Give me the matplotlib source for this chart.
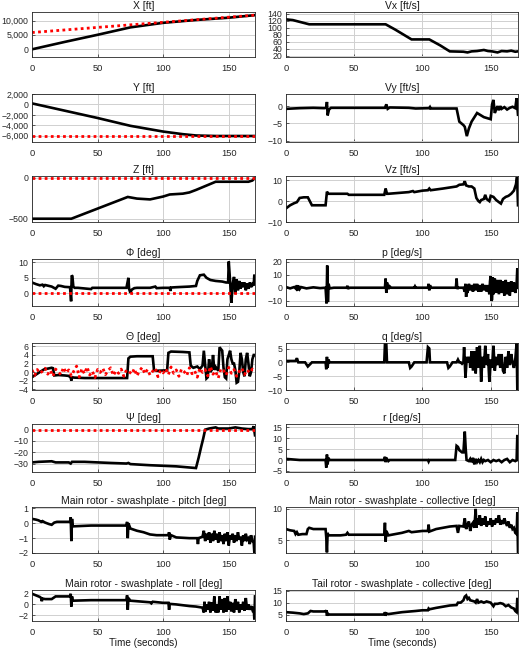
import matplotlib
matplotlib.use('Agg')
import matplotlib.pyplot as plt
from matplotlib.ticker import FuncFormatter

plt.rcParams['font.family'] = ['Liberation Sans', 'DejaVu Sans']

# ---- data (time [s], value) ---------------------------------------------
x_ft = [(0, -100), (25, 2500), (50, 5000), (75, 7600), (100, 9200), (125, 10200),
        (150, 11000), (170, 11900)]
x_ref = [(0, 5800), (170, 11900)]

y_ft = [(0, 200), (25, -1200), (50, -2600), (75, -4100), (100, -5200), (115, -5700),
        (125, -5950), (140, -6050), (170, -6050)]
y_ref = [(0, -6000), (170, -6000)]

z_ft = [(0, -500), (30, -500), (73, -235), (80, -255), (90, -265), (100, -230),
        (105, -205), (115, -195), (120, -180), (125, -150), (140, -50), (165, -50),
        (168, -35), (170, -5)]
z_ref = [(0, 0), (170, 0)]

phi = [(0, 3.5), (3, 3), (6, 2.6), (8, 2.8), (9, 2.3), (10, 2.7), (12, 2.5), (15, 2.2),
       (18, 1.5), (20, 2.5), (22, 2.4), (25, 2.1), (29, 2), (29.8, -2.5), (30.3, 5.8),
       (30.8, 5.5), (31.5, 2.2), (32.5, 1.8), (35, 1.8), (45, 1.4), (46, 1.8), (50, 1.8),
       (60, 1.8), (72, 1.8), (73.5, 5), (74, 1.5), (75, 0.2), (76, 1.2), (78, 1.7),
       (80, 1.8), (90, 1.8), (94, 2.2), (95, 1.7), (100, 1.8), (105, 1.8), (105.5, 0.8),
       (106, 1.9), (110, 2), (120, 2.2), (125, 2.4), (126, 4), (128, 5.8), (131, 6),
       (133, 5), (136, 4.3), (140, 4), (145, 3.8), (148, 3.5), (149.5, 3.5), (150, 10.2),
       (151, 4), (152, -3), (153, 3), (154, 5.3), (155, 0), (156, 4.5), (157, 1), (158, 4),
       (159, 1.5), (160, 3.5), (161, 2), (162, 3.5), (163, 1), (164, 3.2), (165, 1.5),
       (166, 3.5), (167, 2), (168, 3), (169, 2.5), (169.5, 6), (170, 4)]
phi_ref = [(0, 0), (170, 0)]

theta = [(0, -1.2), (3, -0.6), (6, 0), (9, 0.6), (12, 0.8), (15, 1), (16, 0.9), (17, -0.8),
         (20, -0.7), (25, -0.8), (28, -0.9), (29.5, -1.3), (30, -2), (30.5, -1.2), (32, -1.3),
         (40, -1.4), (60, -1.4), (72.5, -1.4), (73.5, 3.2), (75, 3.6), (80, 3.7), (92, 3.7),
         (93, 0.5), (95, 0.3), (103, 0.4), (104, 4.5), (106, 4.8), (115, 4.7), (120, 4.6),
         (121, 1.5), (123, 1.0), (126, 1.3), (128, 0.7), (130, 1.5), (131, 5), (133, -1.5),
         (134, -1.2), (135, 3), (136, 0), (137, 0.5), (138, 4), (139, 0.5), (140, 1.2),
         (142, 0.3), (143, 5.8), (145, 5), (146, 1), (147, -1.2), (148, -1.5), (149, 3),
         (150, 4), (151, 5), (152, 3), (153, 2), (154, 2), (155, 0.5), (156, -2.5),
         (157, -2.3), (158, 0), (159, 4.5), (160, 3), (161, 0), (162, -1), (163, 3),
         (164, 4.5), (165, 2), (166, -1), (167, 0), (168, 3), (169, 4), (170, 4)]
theta_ref_t = list(range(0, 172, 2))
theta_ref_v = [0.5, -0.8, 0.6, -0.3, 0.2, 0.9, -0.5, 0.4, -1.0, 0.7, 0.1, -0.6, 1.1, -0.2,
               0.5, -0.9, 0.3, 1.4, -1.2, 0.8, -0.4, 1.2, -0.7, 0.2, -1.3, 0.6, -0.1, 0.9,
               -0.6, 0.4, 1.0, -0.8, 0.3, -0.3, 0.7, -1.0, 0.5, 0.1, -0.5, 0.8, -0.9, 0.3,
               1.1, -0.4, 0.6, -0.7, 0.2, 0.9, -1.1, 0.4, -0.2, 0.8, -0.6, 1.2, -0.3, 0.5,
               -1.0, 0.7, 0.1, -0.8, 1.0, -0.4, 0.3, -1.2, 0.9, -0.1, 0.6, -0.9, 1.3, -0.5,
               0.2, -1.4, 0.8, 0.4, -0.7, 1.1, -0.3, 0.6, -1.0, 0.2, 0.9, -0.6, 0.5, -0.2,
               0.7, 0.3]

psi = [(0, -29), (5, -28.5), (15, -28), (18, -29), (28, -29), (29.5, -30), (30.5, -28.5),
       (40, -28.5), (60, -29.5), (72, -30), (73.5, -29.5), (75, -30.5), (90, -31.5),
       (110, -32.5), (125, -34), (127, -25), (129, -15), (130.5, -8), (132, 0), (135, 1),
       (140, 2), (142, 1), (150, 1), (155, 2), (160, 1), (165, 0.5), (168, 0.5), (169, 3),
       (170, -5)]
psi_ref = [(0, 0), (170, 0)]

pitch = [(0, 0.3), (3, 0.25), (5, 0.2), (7, 0.1), (8, 0.15), (10, 0.05), (13, -0.05),
         (15, -0.1), (17, 0.05), (19, 0.1), (25, 0.1), (29, 0.1), (29.5, 0.4), (30, -1.2),
         (30.5, 0.3), (31, -0.2), (32, -0.2), (45, -0.15), (72, -0.15), (72.5, 0.1),
         (73, -1), (73.5, 0), (75, -0.35), (80, -0.5), (85, -0.6), (90, -0.75), (95, -0.8),
         (104, -0.8), (104.5, -0.6), (105, -1.1), (106, -0.8), (110, -0.95), (120, -1),
         (126, -1), (126.5, -1.4), (127, -1), (130, -0.9), (131, -0.5), (132, -1.2),
         (133, -0.7), (134, -1.1), (135, -0.6), (136, -1.3), (137, -0.7), (138, -1.2),
         (139, -0.5), (140, -1.1), (141, -0.7), (142, -1.3), (143, -0.6), (144, -1.2),
         (145, -0.8), (146, -1.4), (147, -0.7), (148, -1.2), (149, -0.6), (150, -1.5),
         (151, -0.8), (152, -1.1), (153, -0.7), (154, -1.3), (155, -0.8), (156, -1.2),
         (157, -0.6), (158, -1.1), (159, -0.9), (160, -1.5), (161, -0.8), (162, -1.2),
         (163, -0.7), (164, -1.1), (165, -1), (166, -1.4), (167, -0.8), (168, -1.2),
         (169, -1.3), (169.5, -2), (170, -0.9)]

roll = [(0, 2), (3, 1.7), (6, 1.4), (7, 1.2), (7.5, 0.6), (8, 1.1), (10, 1), (15, 1),
        (18, 1.5), (25, 1.5), (29, 1.5), (29.5, 2), (30, -0.4), (30.5, 1.5), (31, 0.7),
        (45, 0.8), (72, 0.8), (72.5, 1.7), (73, -1), (73.5, 1.2), (75, 0.7), (90, 0.4),
        (91, 0.2), (92, 0.5), (100, 0.3), (104, 0.3), (104.5, -1), (105, 0.1), (110, 0),
        (120, -0.3), (125, -0.4), (130, -0.6), (131, -1.5), (131.5, 0.5), (132, -1.4),
        (133, 0), (134, -1), (135, 0.5), (136, -1.5), (137, 0.4), (138, -1.2), (139, 1.5),
        (140, -1.5), (141, 0), (142, -1.5), (143, 1.5), (144, -1), (145, 1), (146, -1.5),
        (147, 1.2), (148, -1.4), (149, 1.5), (150, -1), (151, 0.5), (152, -1.3), (153, 0.3),
        (154, -1.5), (155, 1), (156, -1), (157, 0.5), (158, -1.5), (159, 0), (160, -1),
        (161, 0.5), (162, -1.2), (163, 1.2), (164, -1), (165, 0), (166, -1), (167, -0.3),
        (168, -1), (169, -0.5), (169.5, -2.8), (170, 1.5)]

vx = [(0, 124), (5, 122), (10, 117), (17, 110), (73, 110), (80, 95), (92, 67), (105, 67),
      (113, 50), (120, 33), (130, 32), (133, 30), (136, 33), (140, 34), (145, 37),
      (148, 34), (151, 33), (155, 30), (158, 34), (162, 33), (165, 35), (168, 32), (170, 33)]

vy = [(0, -0.8), (10, -0.6), (20, -0.5), (28, -0.6), (29.5, -0.5), (30, 1.2), (30.5, -2.7),
      (31.5, -1), (33, -0.5), (50, -0.5), (72.5, -0.5), (73.5, 0.5), (74.5, -0.8),
      (76, -0.4), (90, -0.5), (95, -0.7), (105, -0.6), (105.5, -0.3), (106, -0.7),
      (125, -0.7), (127, -4.5), (130, -5.5), (131, -6), (132.5, -8.7), (134, -6.5),
      (136, -4.5), (140, -2), (145, -3.2), (150, -3.8), (151, 0.5), (152, 1.8), (153, -2),
      (154, -1), (155, 0), (156, -1.2), (157, 0), (158, -0.8), (160, -0.3), (162, -1),
      (164, -0.5), (166, -0.2), (168, -0.6), (169, 2.3), (170, -2.5)]

vz = [(0, -3.5), (3, -2), (6, -1), (8, -0.5), (10, 1.5), (13, 1.8), (16, 1.8), (19, -2),
      (25, -2), (29, -2), (30, 4.5), (31, 3.5), (45, 3.5), (46, 3), (72, 3), (73, 6),
      (74, 3.5), (75, 3.5), (90, 4.3), (93, 4.8), (94, 4.3), (100, 5), (104, 5.2), (105, 6),
      (106, 5.2), (115, 6), (120, 6.5), (125, 7), (127, 7.8), (130, 8), (131, 9.5),
      (132, 7.5), (134, 7), (136, 7), (138, 6), (139.5, 1.5), (141, 0), (142, -0.5),
      (143, 0.5), (145, 1), (146, 3), (147, 1), (149, 0), (150, 2.5), (152, 2), (154, 0.5),
      (156, -0.5), (157.5, -1.2), (159, 1), (161, 2), (163, 2.5), (165, 3.5), (167, 5),
      (168.5, 8), (169.3, 11.5), (170, -2)]

p_rate = [(0, 0.5), (3, -0.5), (6, 0.5), (7.5, -1), (8, 2), (8.5, -2), (9, 1.5), (10, -1),
          (11, 0.5), (15, -0.5), (20, 0.3), (25, -0.3), (29, 0), (29.7, -12), (30.2, 17),
          (30.7, -11), (31.2, 3), (32, -0.5), (35, 0), (44.5, 0), (45, 1.5), (45.5, -1),
          (46, 0), (60, 0), (72.5, 0), (73, 7), (73.5, -4), (74, 4), (75, -1), (76, 1),
          (77, 0), (94, 0), (94.5, 1), (95, 0), (104, 0), (104.5, 3), (105, -2), (105.5, 2),
          (106, 0), (124.5, 0), (125, 7), (125.5, -1), (126, 0), (130, 0), (131, -3),
          (131.5, 3), (132, -7), (132.5, 2), (133, -4), (134, 3), (135, -2), (136, 2),
          (137, -3), (138, 3), (139, -2), (140, 3), (141, -3), (142, 2), (143, -3), (144, 3),
          (145, -2), (146, 2), (147, -3), (148, 2), (149, -5), (149.5, 5), (150, 9),
          (150.5, -10), (151, -9), (151.5, 8), (152, -5), (153, 7), (154, -4), (155, 6),
          (156, -5), (157, 6), (158, -4), (159, 5), (160, -6), (161, 6), (162, -5), (163, 4),
          (164, -6), (165, 5), (166, -3), (167, 4), (168, -4), (169, 3), (169.5, 15),
          (170, 0)]

q_rate = [(0, 0.5), (7, 0.5), (8, 1.5), (9, 0), (14, 0), (16, -1.5), (17, -1), (19, 0),
          (29, 0), (29.5, -2.5), (30, 2), (30.5, -2), (31, 1), (32, 0), (45, 0), (72, 0),
          (72.5, 6.5), (73.5, 6.5), (74, 0), (90, 0), (91, -2), (92, -1.5), (94, 0),
          (103, 0), (104, 5.5), (105, 5), (105.5, 0), (118, 0), (119, -2), (120, -1.5),
          (122, 0), (125, 0), (126, 1), (127, 0), (128, 0), (129, -0.5), (130, 0),
          (130.5, 5.5), (131.5, -5.5), (132.5, 2), (133.5, 0), (134.5, 2), (135, -2),
          (136, 4), (137, -3), (138, 4), (139, -4), (140, 5.5), (141, -2), (142, 6),
          (143, -7), (144, 2), (145, -2), (146, 6), (147, -1), (148, 3), (149, -7), (150, 1),
          (151, -2), (152, 6), (153, -3), (154, 2), (155, -1), (156, 3), (157, -2), (158, 3),
          (159, -3), (160, -4), (161, 2), (162, -2), (163, 4), (164, -1), (165, 3), (166, 0),
          (167, -2), (168, 1), (169, 7), (169.5, -10), (170, -10)]

r_rate = [(0, 0.5), (10, 0), (20, 0), (29, 0), (29.5, -3.5), (30, 2.5), (30.5, -2), (31, 1),
          (32, 0), (72, 0), (72.5, 1.5), (73, -1), (73.5, 1), (75, -0.5), (76, 0), (104, 0),
          (104.5, -0.7), (105, 0), (124, 0), (125, 6.5), (126, 6), (127, 4.5), (128, 4),
          (129, 3.5), (130, 3.5), (131, 13), (131.7, 5), (132.3, 0), (134, -0.5), (135, 0.5),
          (136, -1), (137, 1), (138, -2), (139, 0.5), (140, -1), (141, 0), (142, -1),
          (143, 0.5), (144, -1), (145, 0), (146, -0.5), (148, 0), (150, -1), (152, 0),
          (154, -0.5), (156, 0), (158, -1), (160, 0), (162, 0.5), (164, -1), (166, 0),
          (168, -0.5), (169, 0), (169.5, 11.5), (170, 0)]

main_coll = [(0, 6.8), (3, 6.6), (6, 6.5), (7, 6), (8, 6.3), (9, 5.9), (12, 6), (15, 6),
             (16, 6.8), (17, 7), (20, 6.8), (29, 6.8), (29.5, 5.5), (30, 3.1), (30.5, 6.2),
             (31, 5.8), (40, 5.8), (44, 5.9), (45, 6.2), (46, 5.9), (72, 5.9), (72.5, 7.8),
             (73, 4.8), (73.5, 6.5), (75, 5.8), (85, 6.2), (90, 6.5), (92, 6.3), (100, 6.5),
             (104, 6.5), (104.5, 7.5), (105, 6.4), (110, 6.8), (115, 7), (120, 7.2),
             (125, 7.3), (126, 6.2), (127, 7.3), (130, 7.2), (131, 8.5), (132, 6.8),
             (133, 7.5), (134, 8), (135, 6.5), (136, 7.5), (137, 7.8), (138, 7), (139, 10),
             (139.5, 7), (140, 8.5), (141, 7.5), (142, 9), (143, 7.3), (144, 8.5), (145, 7.5),
             (146, 8.8), (147, 7.2), (148, 8), (149, 7.5), (150, 8.5), (151, 7.2), (152, 8.2),
             (153, 7.5), (154, 8.5), (155, 7.8), (156, 9), (157, 7.5), (158, 8.2), (159, 7.6),
             (160, 8.5), (161, 7.8), (162, 7.3), (163, 8), (164, 7), (165, 7.5), (166, 6.8),
             (167, 7), (168, 6.2), (169, 6), (169.5, 9.5), (170, 3.1)]

tail_coll = [(0, 6), (5, 5.8), (10, 5.5), (13, 5.2), (16, 5.5), (18, 6.5), (20, 6.3),
             (29, 6.3), (29.5, 6.8), (30, 4.5), (30.5, 5.5), (31, 5), (45, 5), (72, 5),
             (72.5, 6), (73, 4.5), (73.5, 5.5), (75, 5.2), (85, 6), (95, 6.5), (100, 6.8),
             (104, 6.8), (104.5, 7.5), (105, 7.2), (110, 7.8), (115, 8.3), (120, 8.8),
             (125, 9), (126, 10), (128, 10), (130, 11), (131, 12.5), (132, 13), (133, 11.5),
             (134, 12), (135, 11), (138, 10.5), (139, 10), (140, 11.5), (141, 10),
             (143, 10.5), (145, 10), (147, 10.5), (150, 10), (152, 8.5), (153, 9.5),
             (155, 9.5), (157, 9.8), (159, 9.5), (161, 8.5), (163, 9), (165, 8), (167, 7.5),
             (168, 6.5), (169, 6), (169.5, 12), (170, 6.5)]

# ---- layout (pixel boxes, figure is 520 x 651) --------------------------
W, H = 520, 651
rows = [(12, 57), (94, 142), (176, 222), (259, 306), (343, 390), (424, 472),
        (507, 553), (590, 621)]
cols = [(32, 255), (286, 518)]


def comma(v, _):
    return f'{v:,.0f}'.replace('-', '\u2212')


# (col, row, title, series, ref, ylim, yticks, formatter)
panels = [
    (0, 0, 'X [ft]', x_ft, x_ref, (-2800, 13000), [0, 5000, 10000], comma),
    (0, 1, 'Y [ft]', y_ft, y_ref, (-7200, 2000), [-6000, -4000, -2000, 0, 2000], comma),
    (0, 2, 'Z [ft]', z_ft, z_ref, (-540, 20), [-500, 0], None),
    (0, 3, '\u03a6 [deg]', phi, phi_ref, (-4, 11), [0, 5, 10], None),
    (0, 4, '\u0398 [deg]', theta, list(zip(theta_ref_t, theta_ref_v)), (-4.2, 6.8),
     [-4, -2, 0, 2, 4, 6], None),
    (0, 5, '\u03a8 [deg]', psi, psi_ref, (-37.5, 5), [-30, -20, -10, 0], None),
    (0, 6, 'Main rotor - swashplate - pitch [deg]', pitch, None, (-2, 1.1),
     [-2, -1, 0, 1], None),
    (0, 7, 'Main rotor - swashplate - roll [deg]', roll, None, (-3.1, 2.7),
     [-2, 0, 2], None),
    (1, 0, 'Vx [ft/s]', vx, None, (17, 145), [20, 40, 60, 80, 100, 120, 140], None),
    (1, 1, 'Vy [ft/s]', vy, None, (-10.4, 3.5), [-10, -5, 0], None),
    (1, 2, 'Vz [ft/s]', vz, None, (-10, 12), [-10, 0, 10], None),
    (1, 3, 'p [deg/s]', p_rate, None, (-14, 22), [-10, 0, 10, 20], None),
    (1, 4, 'q [deg/s]', q_rate, None, (-10, 7), [-10, -5, 0, 5], None),
    (1, 5, 'r [deg/s]', r_rate, None, (-5.5, 16.5), [-5, 0, 5, 10, 15], None),
    (1, 6, 'Main rotor - swashplate - collective [deg]', main_coll, None, (3, 10.3),
     [5, 10], None),
    (1, 7, 'Tail rotor - swashplate - collective [deg]', tail_coll, None, (2.3, 15.3),
     [5, 10, 15], None),
]

fig = plt.figure(figsize=(W / 100, H / 100), dpi=100)

for col, row, title, series, ref, ylim, yticks, fmt in panels:
    x0, x1 = cols[col]
    top, bot = rows[row]
    ax = fig.add_axes([x0 / W, 1 - bot / H, (x1 - x0) / W, (bot - top) / H])
    ts, vs = zip(*series)
    ax.plot(ts, vs, color='black', lw=1.9, solid_joinstyle='miter')
    if ref is not None:
        rt, rv = zip(*ref)
        ax.plot(rt, rv, color='red', lw=2.0, ls=(0, (1, 1.2)))
    ax.set_xlim(0, 170)
    ax.set_ylim(*ylim)
    ax.set_xticks([0, 50, 100, 150])
    ax.set_yticks(yticks)
    if fmt is not None:
        ax.yaxis.set_major_formatter(FuncFormatter(fmt))
    ax.grid(True, color='#d0d0d0', lw=0.7)
    ax.set_axisbelow(True)
    ax.tick_params(direction='in', length=2, width=0.5, labelsize=6.3,
                   colors='#262626', pad=2.5)
    ax.tick_params(axis='x', labelsize=6.7, pad=5)
    for s in ax.spines.values():
        s.set_color('#262626')
        s.set_linewidth(0.6)
    ax.set_title(title, fontsize=7.5, pad=2, color='#1a1a1a')
    if row == 7:
        ax.set_xlabel('Time (seconds)', fontsize=7.2, labelpad=1, color='#1a1a1a')

fig.savefig('out.png', dpi=100)
